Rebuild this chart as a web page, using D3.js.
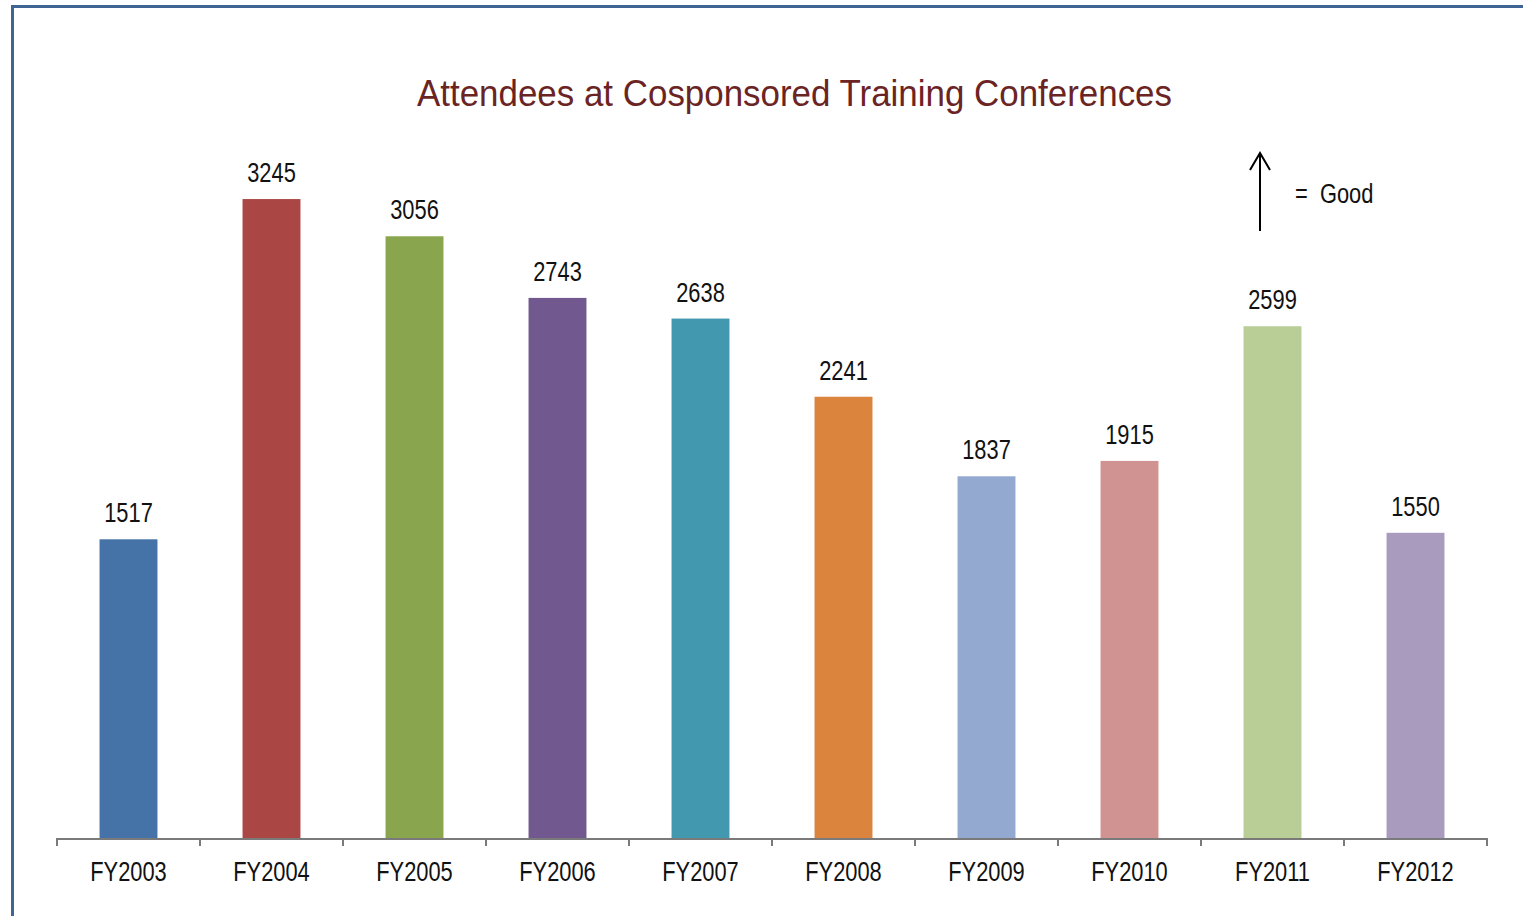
<!DOCTYPE html>
<html>
<head>
<meta charset="utf-8">
<script src="https://cdn.jsdelivr.net/npm/d3@7/dist/d3.min.js"></script>
<style>
  body { margin: 0; background: #fff; }
  text { font-family: "Liberation Sans", Arial, sans-serif; }
</style>
</head>
<body>
<div id="chart"></div>
<script>
// chart data
const years = ["FY2003", "FY2004", "FY2005", "FY2006", "FY2007", "FY2008", "FY2009", "FY2010", "FY2011", "FY2012"];
const attendees = [1517, 3245, 3056, 2743, 2638, 2241, 1837, 1915, 2599, 1550];
const barColors = ["#4573a7", "#aa4644", "#89a54e", "#71588f", "#4298af", "#db843d", "#93a9cf", "#d19392", "#b9cd96", "#a99bbd"];
const titleText = "Attendees at Cosponsored Training Conferences";

const W = 1523, H = 916;
const narrow = 0.81; // squeeze text horizontally, the original font is condensed

const svg = d3.select("#chart").append("svg")
  .attr("width", W)
  .attr("height", H);

// outer frame
svg.append("rect")
  .attr("x", 12.5).attr("y", 6.5)
  .attr("width", W + 20).attr("height", H + 20)
  .attr("fill", "none")
  .attr("stroke", "#3f6595")
  .attr("stroke-width", 3);

const x = d3.scaleBand()
  .domain(years)
  .range([57, 1487])
  .paddingInner(0.595)
  .paddingOuter(0.2975);

const y = d3.scaleLinear()
  .domain([0, 4000])
  .range([838, 50.4]);

// bars
svg.append("g")
  .selectAll("rect")
  .data(years)
  .enter()
  .append("rect")
    .attr("x", d => x(d))
    .attr("width", x.bandwidth())
    .attr("y", (d, i) => y(attendees[i]))
    .attr("height", (d, i) => y(0) - y(attendees[i]))
    .attr("fill", (d, i) => barColors[i]);

// value labels
svg.append("g")
  .selectAll("text")
  .data(years)
  .enter()
  .append("text")
    .attr("transform", (d, i) => "translate(" + (x(d) + x.bandwidth() / 2) + "," + (y(attendees[i]) - 17) + ") scale(" + narrow + ",1)")
    .attr("text-anchor", "middle")
    .attr("font-size", 27)
    .attr("fill", "#111")
    .text((d, i) => attendees[i]);

// category axis with ticks between bands
const axis = svg.append("g");
axis.append("line")
  .attr("x1", 56).attr("x2", 1488)
  .attr("y1", 839).attr("y2", 839)
  .attr("stroke", "#7a7a7a")
  .attr("stroke-width", 2);
const step = x.step();
const tickXs = d3.range(years.length + 1).map(i => 57 + i * step);
axis.selectAll("line.tick")
  .data(tickXs)
  .enter()
  .append("line")
    .attr("class", "tick")
    .attr("x1", d => d).attr("x2", d => d)
    .attr("y1", 839).attr("y2", 846)
    .attr("stroke", "#7a7a7a")
    .attr("stroke-width", 2);
axis.selectAll("text")
  .data(years)
  .enter()
  .append("text")
    .attr("transform", d => "translate(" + (x(d) + x.bandwidth() / 2) + ",881) scale(" + narrow + ",1)")
    .attr("text-anchor", "middle")
    .attr("font-size", 27)
    .attr("fill", "#111")
    .text(d => d);

// title
svg.append("text")
  .attr("x", 417)
  .attr("y", 106)
  .attr("font-size", 37)
  .attr("fill", "#6b2424")
  .attr("textLength", 755)
  .attr("lengthAdjust", "spacingAndGlyphs")
  .text(titleText);

// "up = good" note
svg.append("line")
  .attr("x1", 1260).attr("x2", 1260)
  .attr("y1", 231).attr("y2", 153)
  .attr("stroke", "#000")
  .attr("stroke-width", 2);
svg.append("path")
  .attr("d", "M1250,170 L1260,153 L1270,170")
  .attr("fill", "none")
  .attr("stroke", "#000")
  .attr("stroke-width", 2);
svg.append("text")
  .attr("transform", "translate(1295,203) scale(" + narrow + ",1)")
  .attr("font-size", 27)
  .attr("fill", "#111")
  .attr("xml:space", "preserve")
  .text("=  Good");
</script>
</body>
</html>
